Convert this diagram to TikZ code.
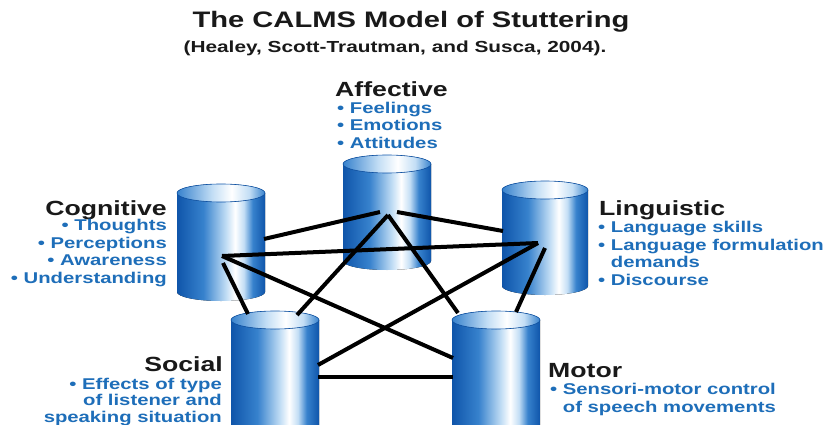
\documentclass[tikz,border=0pt]{standalone}
\usepackage{fontspec}
\setmainfont{Liberation Sans}[FakeStretch=1.3]
\usepackage{tikz}
\usetikzlibrary{positioning}

\definecolor{headGray}{RGB}{25,25,25}
\definecolor{itemBlue}{RGB}{30,110,185}
\definecolor{cylDark}{RGB}{15,85,170}
\definecolor{cylMid}{RGB}{55,130,205}
\definecolor{cylLight}{RGB}{195,222,245}

\pgfdeclarehorizontalshading{cylbody}{100bp}{color(0bp)=(cylDark); color(25bp)=(cylDark); color(40bp)=(cylMid); color(53bp)=(cylLight); color(58bp)=(white); color(63bp)=(cylLight); color(68bp)=(cylMid); color(75bp)=(cylDark); color(100bp)=(cylDark)}
\pgfdeclarehorizontalshading{cyltop}{100bp}{color(0bp)=(cylMid); color(25bp)=(cylMid); color(45bp)=(cylLight); color(56bp)=(white); color(66bp)=(cylLight); color(75bp)=(cylMid); color(100bp)=(cylMid)}

\tikzset{
  head/.style = {font=\bfseries\fontsize{20.5}{22}\selectfont, text=headGray, inner sep=0pt},
  item/.style = {font=\bfseries\fontsize{15.6}{17.5}\selectfont, text=itemBlue, inner sep=0pt},
  link/.style = {draw, black, line width=4pt}
}

% left x, right x, top y, bottom y
\newcommand{\calmsCyl}[4]{%
  \fill[shading=cylbody] (#1,#3) -- (#1,#4) arc[start angle=180, end angle=0, x radius={(#2-#1)/2}, y radius=9] -- (#2,#3) -- cycle;
  \fill[shading=cyltop, draw=cylDark, line width=0.6pt] ({(#1+#2)/2},#3) ellipse[x radius={(#2-#1)/2}, y radius=9];
}

\begin{document}
\begin{tikzpicture}[x=1pt, y=-1pt]
\clip (0,0) rectangle (829,425);
\fill[white] (0,0) rectangle (829,425);

% Titles
\node[font=\bfseries\fontsize{22.4}{24}\selectfont, text=headGray, anchor=base] (title) at (411,28) {The CALMS Model of Stuttering};
\node[font=\bfseries\fontsize{16}{18}\selectfont, text=headGray, anchor=base] (source) at (395,53) {(Healey, Scott-Trautman, and Susca, 2004).};

% The five cylinders
\calmsCyl{343}{431}{164}{261}
\calmsCyl{177}{265}{193}{292}
\calmsCyl{502}{588}{190}{286}
\calmsCyl{231}{319}{320}{445}
\calmsCyl{452}{540}{320}{445}

% Link ends
\coordinate (affL) at (380,212);
\coordinate (affR) at (397,212);
\coordinate (affHub) at (388,215);
\coordinate (cogR) at (264,239);
\coordinate (cogHub) at (222,256);
\coordinate (cogLow) at (223,263);
\coordinate (lingL) at (503,231);
\coordinate (lingHub) at (538,243);
\coordinate (lingLow) at (545,248);
\coordinate (socTopL) at (248,314);
\coordinate (socTopR) at (297,315);
\coordinate (socR1) at (318,365);
\coordinate (socR2) at (318,377);
\coordinate (motTopL) at (458,313);
\coordinate (motTopR) at (516,312);
\coordinate (motL1) at (453,358);
\coordinate (motL2) at (453,377);

\foreach \a/\b in {cogR/affL, affR/lingL, cogHub/lingHub, cogHub/motL1, lingHub/socR1,
                   cogLow/socTopL, affHub/socTopR, affHub/motTopL, lingLow/motTopR, socR2/motL2}
  \path[link] (\a) -- (\b);

% Labels (list nodes anchored on their last line)
\node[head, anchor=base west] (affHead) at (335,97) {Affective};
\node[item, anchor=base west, align=left] (affList) at (337,148) {• Feelings\\• Emotions\\• Attitudes};

\node[head, anchor=base east] (cogHead) at (167,215) {Cognitive};
\node[item, anchor=base east, align=right] (cogList) at (167,283) {• Thoughts\\• Perceptions\\• Awareness\\• Understanding};

\node[head, anchor=base west] (lingHead) at (599,215) {Linguistic};
\node[item, anchor=base west, align=left] (lingList) at (598,285) {• Language skills\\• Language formulation\\\phantom{• }demands\\• Discourse};

\node[head, anchor=base east] (socHead) at (223,371) {Social};
\node[item, anchor=base east, align=right, font=\bfseries\fontsize{15.6}{16.5}\selectfont] (socList) at (222,422) {• Effects of type\\of listener and\\speaking situation};

\node[head, anchor=base west] (motHead) at (548,377) {Motor};
\node[item, anchor=base west, align=left] (motList) at (550,412) {• Sensori-motor control\\\phantom{• }of speech movements};
\end{tikzpicture}
\end{document}
